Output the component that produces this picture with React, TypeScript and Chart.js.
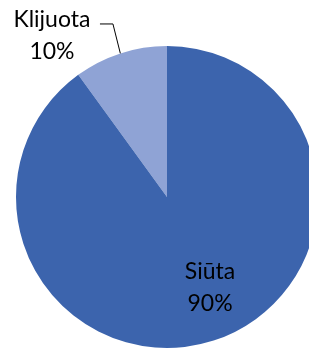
import React, { useEffect, useRef } from "react";
import { Chart, registerables } from "chart.js";

Chart.register(...registerables);

const categories = ["Klijuota", "Siūta"];
const values = [10, 90];
const percentLabels = ["10%", "90%"];
const colors = ["#8FA3D5", "#3C64AD"];

const labelPlugin = {
  id: "pieLabels",
  afterDraw(chart: any) {
    const ctx = chart.ctx;
    const meta = chart.getDatasetMeta(0);
    const font = "23px Lato, 'Open Sans', sans-serif";
    ctx.save();
    ctx.font = font;
    ctx.fillStyle = "#000000";
    ctx.textAlign = "center";
    ctx.textBaseline = "alphabetic";

    // Klijuota (outside with leader line)
    const a0: any = meta.data[0];
    const r = a0.outerRadius;
    const cx = a0.x;
    const cy = a0.y;
    const mid = (a0.startAngle + a0.endAngle) / 2;
    const ex = cx + Math.cos(mid) * r;
    const ey = cy + Math.sin(mid) * r;
    ctx.strokeStyle = "#000000";
    ctx.lineWidth = 1;
    ctx.beginPath();
    ctx.moveTo(cx - 0.444 * r, cy - 1.146 * r);
    ctx.lineTo(cx - 0.358 * r, cy - 1.146 * r);
    ctx.lineTo(ex, ey);
    ctx.stroke();
    ctx.fillText(categories[0], cx - 0.762 * r, cy - 1.126 * r);
    ctx.fillText(percentLabels[0], cx - 0.762 * r, cy - 0.914 * r);

    // Siūta (inside)
    ctx.fillText(categories[1], cx + 0.285 * r, cy + 0.543 * r);
    ctx.fillText(percentLabels[1], cx + 0.285 * r, cy + 0.755 * r);
    ctx.restore();
  },
};

export default function App() {
  const ref = useRef<HTMLCanvasElement | null>(null);
  useEffect(() => {
    if (!ref.current) return;
    const total = values.reduce((a, b) => a + b, 0);
    const chart = new Chart(ref.current, {
      type: "pie",
      data: {
        labels: categories,
        datasets: [
          {
            data: values,
            backgroundColor: colors,
            borderWidth: 0,
          },
        ],
      },
      options: {
        responsive: false,
        animation: false,
        rotation: -(values[0] / total) * 360,
        layout: { padding: 16 },
        plugins: {
          legend: { display: false },
          tooltip: { enabled: false },
        },
      },
      plugins: [labelPlugin],
    });
    return () => chart.destroy();
  }, []);
  return (
    <div
      style={{
        position: "fixed",
        left: 0,
        top: 0,
        width: 309,
        height: 349,
        overflow: "hidden",
        background: "#ffffff",
      }}
    >
      <canvas ref={ref} width={334} height={394} style={{ display: "block" }} />
    </div>
  );
}
